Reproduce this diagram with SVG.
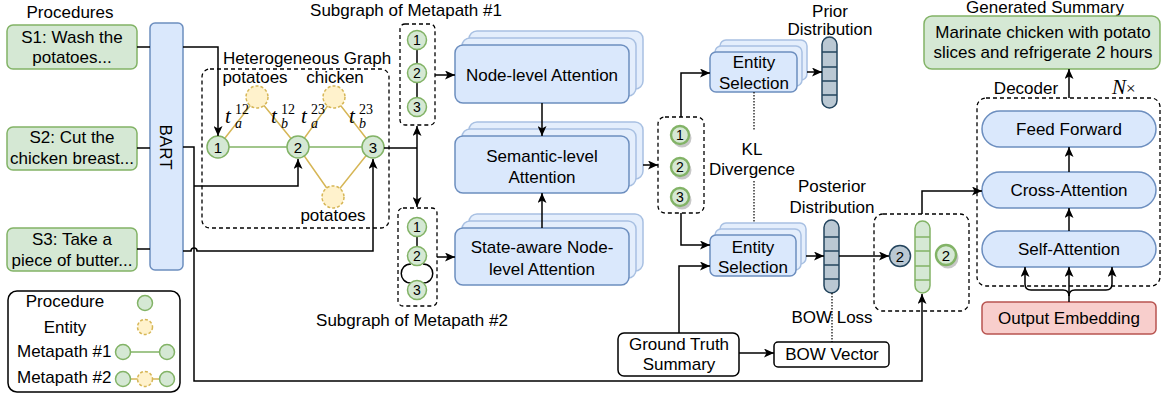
<svg xmlns="http://www.w3.org/2000/svg" width="1162" height="396" viewBox="0 0 1162 396">
<defs>
<marker id="arr" markerUnits="userSpaceOnUse" markerWidth="11" markerHeight="9" refX="10" refY="4.5" orient="auto"><path d="M0,0 L10,4.5 L0,9 L2.5,4.5 z" fill="#000"/></marker>
</defs>
<style>
text{font-family:"Liberation Sans",Arial,sans-serif;font-size:17px;fill:#000}
.c{text-anchor:middle}
.green{fill:#d5e8d4;stroke:#82b366;stroke-width:1.5}
.greenb{fill:#d5e8d4;stroke:#82b366;stroke-width:2.4}
.shadow{fill:#999;opacity:.55}
.blue{fill:#dae8fc;stroke:#6c8ebf;stroke-width:1.5}
.back{fill:#e4eefc;stroke:#a8c0e2;stroke-width:1.5}
.ent{fill:#fff2cc;stroke:#d6b656;stroke-width:1.5;stroke-dasharray:3 2}
.red{fill:#f8cecc;stroke:#b85450;stroke-width:1.5}
.white{fill:#fff;stroke:#000;stroke-width:1.5}
.dash{fill:none;stroke:#000;stroke-width:1.3;stroke-dasharray:4 3}
.line{fill:none;stroke:#000;stroke-width:1.5}
.arrow{fill:none;stroke:#000;stroke-width:1.5;marker-end:url(#arr)}
.dot{fill:none;stroke:#000;stroke-width:1.2;stroke-dasharray:1.5 1.5}
.vec{fill:#bac8d3;stroke:#23445d;stroke-width:1.5}
.vl{stroke:#23445d;stroke-width:1.3}
.gl{stroke:#82b366;stroke-width:1.3}
.eline{stroke:#d6b656;stroke-width:1.5}
.mline{stroke:#82b366;stroke-width:1.5}
.num{font-size:15px}
.snum{font-size:14px}
.math{font-family:"Liberation Serif","DejaVu Serif",serif;font-style:italic;font-size:21px}
.sup{font-family:"Liberation Serif","DejaVu Serif",serif;font-size:14px}
.sub{font-family:"Liberation Serif","DejaVu Serif",serif;font-style:italic;font-size:14px}
</style>

<text class="c" x="70" y="18">Procedures</text>
<g id="s1"><rect class="green" x="7" y="25" width="130" height="44" rx="6"/><text class="c" x="72" y="43">S1: Wash the</text><text class="c" x="72" y="63">potatoes...</text></g>
<g id="s2"><rect class="green" x="7" y="127" width="130" height="43" rx="6"/><text class="c" x="72" y="143">S2: Cut the</text><text class="c" x="72" y="164">chicken breast...</text></g>
<g id="s3"><rect class="green" x="7" y="228" width="130" height="43" rx="6"/><text class="c" x="72" y="245">S3: Take a</text><text class="c" x="72" y="266">piece of butter...</text></g>
<g id="bart"><rect class="blue" x="150" y="23" width="33" height="247" rx="5"/><text class="c" transform="translate(160,147) rotate(90)">BART</text></g>

<g id="hetero-graph">
<rect class="dash" x="202" y="69" width="187" height="159" rx="8"/>
<text class="c" x="307" y="64">Heterogeneous Graph</text>
<text class="c" x="255" y="83">potatoes</text>
<text class="c" x="335" y="83">chicken</text>
<text class="c" x="333" y="221">potatoes</text>
<line class="mline" x1="218" y1="147" x2="373" y2="147"/>
<path class="eline" fill="none" d="M218,147 L257,97 L298,147 L334,97 L373,147 M298,147 L333,197 L373,147"/>
<circle class="ent" cx="257" cy="97" r="11"/>
<circle class="ent" cx="334" cy="97" r="11"/>
<circle class="ent" cx="333" cy="197" r="11"/>
<g id="hn1"><circle class="green" cx="218" cy="147" r="11"/><text class="c num" x="218" y="152.5">1</text></g>
<g id="hn2"><circle class="green" cx="298" cy="147" r="11"/><text class="c num" x="298" y="152.5">2</text></g>
<g id="hn3"><circle class="green" cx="373" cy="147" r="11"/><text class="c num" x="373" y="152.5">3</text></g>
<text class="math" x="225" y="123">t</text><text class="sup" x="235" y="114">12</text><text class="sub" x="235" y="128">a</text>
<text class="math" x="271" y="123">t</text><text class="sup" x="281" y="114">12</text><text class="sub" x="281" y="128">b</text>
<text class="math" x="301" y="123">t</text><text class="sup" x="311" y="114">23</text><text class="sub" x="311" y="128">a</text>
<text class="math" x="349" y="123">t</text><text class="sup" x="359" y="114">23</text><text class="sub" x="359" y="128">b</text>
</g>

<g id="subgraph1">
<text class="c" x="406" y="16">Subgraph of Metapath #1</text>
<rect class="dash" x="400" y="24" width="35" height="101" rx="5"/>
<line class="line" x1="417" y1="40" x2="417" y2="107"/>
<circle class="green" cx="417" cy="40" r="9.5"/><text class="c snum" x="417" y="45">1</text>
<circle class="green" cx="417" cy="73" r="9.5"/><text class="c snum" x="417" y="78">2</text>
<circle class="green" cx="417" cy="107" r="9.5"/><text class="c snum" x="417" y="112">3</text>
</g>

<g id="subgraph2">
<rect class="dash" x="398" y="208" width="39" height="98" rx="5"/>
<line class="line" x1="417" y1="227" x2="417" y2="256"/>
<path class="line" d="M411,264 C398,264 398,283 411,283 M423,264 C436,264 436,283 423,283"/>
<circle class="green" cx="417" cy="227" r="9.5"/><text class="c snum" x="417" y="232">1</text>
<circle class="green" cx="417" cy="256" r="9.5"/><text class="c snum" x="417" y="261">2</text>
<circle class="green" cx="417" cy="290" r="9.5"/><text class="c snum" x="417" y="295">3</text>
<text class="c" x="412" y="326">Subgraph of Metapath #2</text>
</g>

<g id="node-level">
<rect class="back" x="469" y="31" width="174" height="58" rx="8"/>
<rect class="back" x="462" y="38" width="174" height="58" rx="8"/>
<rect class="blue" x="455" y="45" width="174" height="58" rx="8"/>
<text class="c" x="542" y="81">Node-level Attention</text>
</g>
<g id="semantic-level">
<rect class="back" x="469" y="122" width="174" height="57" rx="8"/>
<rect class="back" x="462" y="129" width="174" height="57" rx="8"/>
<rect class="blue" x="455" y="136" width="174" height="57" rx="8"/>
<text class="c" x="542" y="162">Semantic-level</text><text class="c" x="542" y="183">Attention</text>
</g>
<g id="state-aware">
<rect class="back" x="469" y="214" width="174" height="57" rx="8"/>
<rect class="back" x="462" y="221" width="174" height="57" rx="8"/>
<rect class="blue" x="455" y="228" width="174" height="57" rx="8"/>
<text class="c" x="542" y="253">State-aware Node-</text><text class="c" x="542" y="275">level Attention</text>
</g>

<g id="procedure-reps">
<rect class="dash" x="658" y="117" width="46" height="96" rx="7"/>
<circle class="shadow" cx="682" cy="138" r="9.5"/><circle class="greenb" cx="680" cy="135" r="9"/><text class="c snum" x="680" y="140">1</text>
<circle class="shadow" cx="682" cy="170" r="9.5"/><circle class="greenb" cx="680" cy="167" r="9"/><text class="c snum" x="680" y="172">2</text>
<circle class="shadow" cx="682" cy="200" r="9.5"/><circle class="greenb" cx="680" cy="197" r="9"/><text class="c snum" x="680" y="202">3</text>
</g>

<g id="entity-selection-1">
<rect class="back" x="720" y="40" width="87" height="40" rx="6"/>
<rect class="back" x="715" y="46" width="87" height="40" rx="6"/>
<rect class="blue" x="710" y="52" width="87" height="40" rx="6"/>
<text class="c" x="754" y="68">Entity</text><text class="c" x="754" y="89">Selection</text>
</g>
<g id="entity-selection-2">
<rect class="back" x="720" y="223" width="86" height="41" rx="6"/>
<rect class="back" x="715" y="229" width="86" height="41" rx="6"/>
<rect class="blue" x="710" y="235" width="86" height="41" rx="6"/>
<text class="c" x="753" y="253">Entity</text><text class="c" x="753" y="273">Selection</text>
</g>

<g id="kl"><text class="c" x="752" y="155">KL</text><text class="c" x="752" y="175">Divergence</text></g>

<g id="prior">
<text class="c" x="830" y="17">Prior</text><text class="c" x="830" y="35">Distribution</text>
<rect class="vec" x="822" y="37" width="15" height="71" rx="7.5"/>
<path class="vl" d="M822,52 H837 M822,67 H837 M822,81 H837 M822,95 H837"/>
</g>
<g id="posterior">
<text class="c" x="832" y="192">Posterior</text><text class="c" x="832" y="213">Distribution</text>
<rect class="vec" x="824" y="220" width="15" height="73" rx="7.5"/>
<path class="vl" d="M824,237 H839 M824,251 H839 M824,265 H839 M824,279 H839"/>
</g>
<g id="bow-loss"><text class="c" x="832" y="323">BOW Loss</text></g>
<g id="ground-truth"><rect class="white" x="618" y="333" width="121" height="43" rx="6"/><text class="c" x="679" y="350">Ground Truth</text><text class="c" x="679" y="370">Summary</text></g>
<g id="bow-vector"><rect class="white" x="774" y="342" width="115" height="25" rx="4"/><text class="c" x="832" y="360">BOW Vector</text></g>

<g id="fusion">
<rect class="dash" x="874" y="214" width="95" height="97" rx="9"/>
<circle class="vec" cx="900" cy="256" r="10.5"/><text class="c num" x="900" y="261.5">2</text>
<rect class="green" x="915" y="221" width="15" height="72" rx="7.5"/>
<path class="gl" d="M915,237 H930 M915,251 H930 M915,266 H930 M915,280 H930"/>
<circle class="shadow" cx="948" cy="258" r="10.5"/><circle class="greenb" cx="946" cy="255" r="10"/><text class="c num" x="946" y="260.5">2</text>
</g>

<g id="decoder">
<rect class="dash" x="977" y="98" width="183" height="188" rx="9"/>
<text class="c" x="1026" y="94">Decoder</text>
<text class="math" x="1112" y="94">N<tspan style="font-style:normal" font-size="17">×</tspan></text>
<g id="feed-forward"><rect class="blue" x="982" y="111" width="174" height="36" rx="18"/><text class="c" x="1069" y="135">Feed Forward</text></g>
<g id="cross-attention"><rect class="blue" x="982" y="172" width="174" height="36" rx="18"/><text class="c" x="1069" y="196">Cross-Attention</text></g>
<g id="self-attention"><rect class="blue" x="982" y="231" width="174" height="36" rx="18"/><text class="c" x="1069" y="255">Self-Attention</text></g>
</g>
<g id="output-embedding"><rect class="red" x="982" y="302" width="174" height="32" rx="5"/><text class="c" x="1069" y="324">Output Embedding</text></g>
<g id="generated-summary">
<text class="c" x="1045" y="13">Generated Summary</text>
<rect class="green" x="924" y="16" width="236" height="53" rx="8"/>
<text class="c" x="1043" y="38">Marinate chicken with potato</text>
<text class="c" x="1043" y="58">slices and refrigerate 2 hours</text>
</g>

<g id="legend">
<rect x="8" y="291" width="172" height="101" rx="9" fill="#fff" stroke="#000" stroke-width="1.5"/>
<text class="c" x="65" y="307">Procedure</text>
<circle class="green" cx="145" cy="303" r="7.5"/>
<text class="c" x="65" y="333">Entity</text>
<circle class="ent" cx="145" cy="327" r="7.5"/>
<text x="17" y="357">Metapath #1</text>
<line class="mline" x1="123" y1="352" x2="167" y2="352"/>
<circle class="green" cx="123" cy="352" r="7.5"/><circle class="green" cx="167" cy="352" r="7.5"/>
<text x="17" y="383">Metapath #2</text>
<line class="eline" x1="123" y1="379" x2="167" y2="379"/>
<circle class="green" cx="123" cy="379" r="7.5"/><circle class="ent" cx="145" cy="379" r="7.5"/><circle class="green" cx="167" cy="379" r="7.5"/>
</g>

<g id="connectors">
<path class="line" d="M137,47 H150 M137,148 H150 M137,249 H150"/>
<path class="arrow" d="M183,47 H218 V136"/>
<path class="arrow" d="M183,147 H194 V381 H922 V294"/>
<path class="arrow" d="M194,186 H298 V159"/>
<path class="arrow" d="M183,251 H191 A3,3 0 0 1 197,251 H373 V159"/>
<path class="line" d="M384,148 H417"/>
<path class="arrow" d="M417,148 V126"/>
<path class="arrow" d="M417,148 V207"/>
<path class="arrow" d="M435,75 H455"/>
<path class="arrow" d="M437,257 H455"/>
<path class="arrow" d="M542,103 V136"/>
<path class="arrow" d="M542,228 V193"/>
<path class="arrow" d="M643,165 H658"/>
<path class="arrow" d="M681,117 V73 H710"/>
<path class="arrow" d="M681,213 V245 H710"/>
<path class="arrow" d="M679,333 V266 H710"/>
<path class="arrow" d="M807,72 H822"/>
<path class="arrow" d="M806,256 H824"/>
<path class="arrow" d="M839,256 H889"/>
<path class="arrow" d="M739,353 H774"/>
<path class="dot" d="M754,92 V131 M754,181 V223"/>
<path class="dot" d="M832,293 V342"/>
<path class="arrow" d="M922,214 V191 H982"/>
<path class="arrow" d="M1069,172 V147"/>
<path class="arrow" d="M1069,231 V208"/>
<path class="arrow" d="M1069,98 V69"/>
<path class="arrow" d="M1069,302 V267"/>
<path class="arrow" d="M1069,296 Q1069,290 1063,290 H1031 Q1025,290 1025,284 V267"/>
<path class="arrow" d="M1069,296 Q1069,290 1075,290 H1106 Q1112,290 1112,284 V267"/>
</g>
</svg>
